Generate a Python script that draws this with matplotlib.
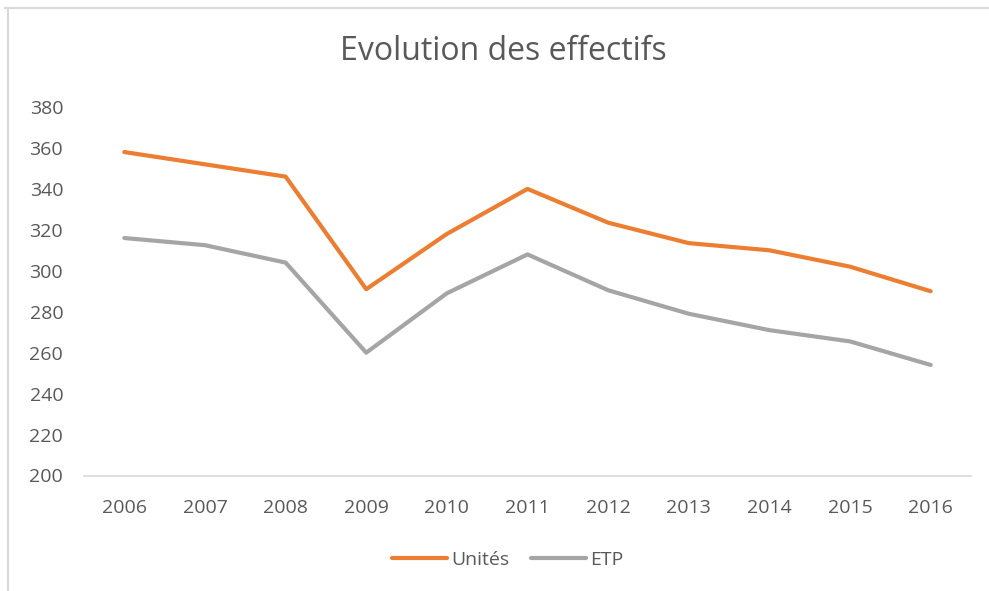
import matplotlib.pyplot as plt
from matplotlib.lines import Line2D

years = ['2006', '2007', '2008', '2009', '2010', '2011', '2012', '2013', '2014', '2015', '2016']
unites = [358, 352, 346, 291, 318, 340, 323.5, 313.5, 310, 302, 290]
etp = [316, 312.5, 304, 260, 289, 308, 290.5, 279, 271, 265.5, 254]

ORANGE = '#ED7D31'
GREY = '#A5A5A5'
TEXT = '#595959'

plt.rcParams['font.family'] = ['Open Sans', 'DejaVu Sans']

fig = plt.figure(figsize=(9.89, 5.91), dpi=100)
ax = fig.add_axes([84 / 989, 1 - 475.5 / 591, (971 - 84) / 989, (475.5 - 107) / 591])

x = list(range(len(years)))
ax.plot(x, unites, color=ORANGE, lw=3, label='Unités', solid_capstyle='round', solid_joinstyle='round')
ax.plot(x, etp, color=GREY, lw=3, label='ETP', solid_capstyle='round', solid_joinstyle='round')

ax.set_xlim(-0.5, len(years) - 0.5)
ax.set_ylim(200, 380)
ax.set_yticks(range(200, 381, 20))
ax.set_xticks(x)
ax.set_xticklabels(years)

for s in ['top', 'right', 'left']:
    ax.spines[s].set_visible(False)
ax.spines['bottom'].set_color('#D9D9D9')
ax.spines['bottom'].set_linewidth(1.2)

ax.tick_params(axis='x', length=0, pad=17, labelsize=14, labelcolor=TEXT)
ax.tick_params(axis='y', length=0, pad=15, labelsize=14, labelcolor=TEXT)

fig.text(503 / 989, 1 - 52 / 591, 'Evolution des effectifs', ha='center', va='center',
         fontsize=23, color=TEXT)

fig.legend(loc='center', bbox_to_anchor=(508 / 989, 1 - 560 / 591), ncol=2, frameon=False,
           fontsize=14, handlelength=2.8, handletextpad=0.25, columnspacing=1.1,
           labelcolor=TEXT)

# chart area border (top and left visible)
fig.add_artist(Line2D([5 / 989, 1], [1 - 8 / 591, 1 - 8 / 591], transform=fig.transFigure,
                      color='#D9D9D9', lw=1.5))
fig.add_artist(Line2D([8 / 989, 8 / 989], [0, 1 - 8 / 591], transform=fig.transFigure,
                      color='#D9D9D9', lw=1.5))

fig.savefig('out.png', dpi=100)
